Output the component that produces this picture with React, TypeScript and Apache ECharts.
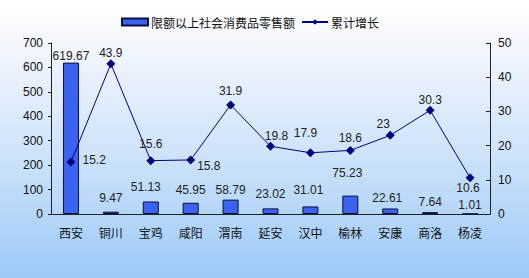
import React, { useEffect, useRef } from "react";
import * as echarts from "echarts";

const categories = ["西安", "铜川", "宝鸡", "咸阳", "渭南", "延安", "汉中", "榆林", "安康", "商洛", "杨凌"];
const salesValues = [619.67, 9.47, 51.13, 45.95, 58.79, 23.02, 31.01, 75.23, 22.61, 7.64, 1.01];
const growthValues = [15.2, 43.9, 15.6, 15.8, 31.9, 19.8, 17.9, 18.6, 23, 30.3, 10.6];
const leftTicks = { min: 0, max: 700, interval: 100 };
const rightTicks = { min: 0, max: 50, interval: 10 };
const seriesNames = ["限额以上社会消费品零售额", "累计增长"];

// label placement tweaks (style only)
const barLabelDist = [1, 8, 9, 7, 4, 8, 10, 17, 4, 4, 2];
const barLabelDx = [0, 0, -5, 0, 0, 0, -2, -3, -3, 0, 0];
const lineLabelPlace: any[] = [
  { position: "right", distance: 7, offset: [0, -2] },
  { position: "top", distance: 0 },
  { position: "top", distance: 6 },
  { position: "right", distance: 2, offset: [0, 6] },
  { position: "top", distance: 3 },
  { position: "top", distance: 0, offset: [6, 0] },
  { position: "top", distance: 9, offset: [-5, 0] },
  { position: "top", distance: 2 },
  { position: "top", distance: 1, offset: [-7, 0] },
  { position: "top", distance: 0 },
  { position: "bottom", distance: 0, offset: [-2, 0] },
];

const NUM_FONT = "'Liberation Sans', Arial, sans-serif";
const CJK_FONT = "'Noto Sans CJK SC', sans-serif";

export default function App() {
  const ref = useRef<HTMLDivElement>(null);
  useEffect(() => {
    if (!ref.current) return;
    const chart = echarts.init(ref.current, undefined, { renderer: "svg" });
    chart.setOption({
      animation: false,
      backgroundColor: "transparent",
      legend: {
        top: 11,
        left: 116,
        itemGap: 6,
        itemWidth: 26,
        itemHeight: 7,
        textStyle: { fontSize: 12, color: "#111", fontFamily: CJK_FONT, padding: [0, 0, 0, -2] },
        data: [
          { name: seriesNames[0], icon: "rect" },
          { name: seriesNames[1] },
        ],
      },
      grid: { left: 51, right: 39, top: 43, bottom: 64 },
      xAxis: {
        type: "category",
        data: categories,
        axisLine: { lineStyle: { color: "#222", width: 1 } },
        axisTick: { inside: true, length: 3, lineStyle: { color: "#222" } },
        axisLabel: { fontSize: 12, color: "#111", fontFamily: CJK_FONT, margin: 12 },
      },
      yAxis: [
        {
          type: "value",
          ...leftTicks,
          splitLine: { show: false },
          axisLine: { show: true, lineStyle: { color: "#222" } },
          axisTick: { show: true, inside: false, length: 3, lineStyle: { color: "#222" } },
          axisLabel: { fontSize: 12, color: "#111", fontFamily: NUM_FONT, margin: 8 },
        },
        {
          type: "value",
          ...rightTicks,
          splitLine: { show: false },
          axisLine: { show: true, lineStyle: { color: "#222" } },
          axisTick: { show: true, inside: true, length: 4, lineStyle: { color: "#222" } },
          axisLabel: { fontSize: 12, color: "#111", fontFamily: NUM_FONT, margin: 8 },
        },
      ],
      series: [
        {
          name: seriesNames[0],
          type: "bar",
          barWidth: 16,
          itemStyle: { color: "#3a63f2", borderColor: "#0a1040", borderWidth: 1 },
          data: salesValues.map((v, i) => ({
            value: v,
            label: {
              show: true,
              position: "top",
              distance: barLabelDist[i],
              offset: [barLabelDx[i], 0],
              fontSize: 12,
              color: "#222",
              fontFamily: NUM_FONT,
            },
          })),
        },
        {
          name: seriesNames[1],
          type: "line",
          yAxisIndex: 1,
          symbol: "diamond",
          symbolSize: 9,
          lineStyle: { color: "#000080", width: 1 },
          itemStyle: { color: "#000080" },
          data: growthValues.map((v, i) => ({
            value: v,
            label: {
              show: true,
              fontSize: 12,
              color: "#222",
              fontFamily: NUM_FONT,
              ...lineLabelPlace[i],
            },
          })),
        },
      ],
    });
    return () => chart.dispose();
  }, []);
  return (
    <div
      style={{
        position: "fixed",
        left: 0,
        top: 0,
        width: 529,
        height: 278,
        background: "linear-gradient(to bottom, #ffffff 0%, #f4f8fd 15%, #cfe3fa 55%, #9ccaf8 100%)",
      }}
    >
      <div ref={ref} style={{ width: 529, height: 278 }} />
    </div>
  );
}
